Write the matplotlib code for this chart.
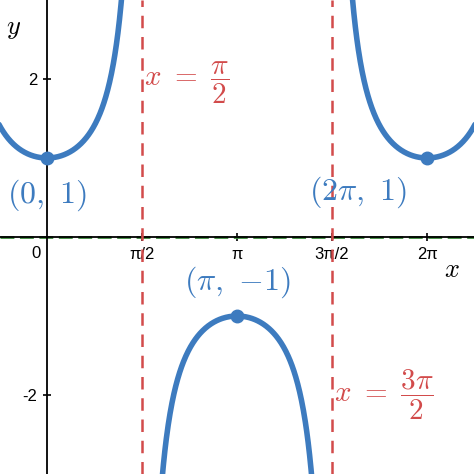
import numpy as np
import matplotlib
matplotlib.use("Agg")
import matplotlib.pyplot as plt

plt.rcParams['mathtext.fontset'] = 'cm'
plt.rcParams['axes.unicode_minus'] = False
plt.rcParams['font.family'] = ['Liberation Sans', 'DejaVu Sans']

# points marked on the curve
point_x = [0, np.pi, 2 * np.pi]
point_y = [1, -1, 1]
point_labels = [r'$(0,\ 1)$', r'$(\pi,\ {-}1)$', r'$(2\pi,\ 1)$']
label_pos = [(0.0, 0.53), (np.pi, -0.57), (5.14, 0.57)]

# vertical asymptotes
asym_x = [np.pi / 2, 3 * np.pi / 2]
asym_labels = [r'$x\ =\ \dfrac{\pi}{2}$', r'$x\ =\ \dfrac{3\pi}{2}$']

xtick_vals = [np.pi / 2, np.pi, 3 * np.pi / 2, 2 * np.pi]
xtick_text = ['π/2', 'π', '3π/2', '2π']
ytick_vals = [-2, 2]

blue = '#3d7bbf'
red = '#d24b4b'
green = '#3a8a3a'

fig = plt.figure(figsize=(4.74, 4.74), dpi=100)
ax = fig.add_axes([0, 0, 1, 1])
ax.set_xlim(-0.247 * np.pi, 2.247 * np.pi)
ax.set_ylim(-3, 3)

# sec(x), split at the asymptotes
bounds = [-0.3 * np.pi] + asym_x + [2.3 * np.pi]
for a, b in zip(bounds[:-1], bounds[1:]):
    x = np.linspace(a + 1e-3, b - 1e-3, 400)
    ax.plot(x, 1 / np.cos(x), color=blue, lw=4, solid_capstyle='round', zorder=4)

ax.plot(point_x, point_y, 'o', color=blue, ms=9, zorder=5)

for xa in asym_x:
    ax.axvline(xa, color=red, lw=1.8, dashes=(5, 3.5), zorder=3)

ax.text(np.pi / 2 + 0.03, 1.95, asym_labels[0], color=red, fontsize=21, va='center', ha='left')
ax.text(3 * np.pi / 2 + 0.03, -2.0, asym_labels[1], color=red, fontsize=21, va='center', ha='left')

for (lx, ly), t in zip(label_pos, point_labels):
    ax.text(lx, ly, t, color=blue, fontsize=23, ha='center', va='center')

# axes through origin
for s in ['top', 'right']:
    ax.spines[s].set_visible(False)
ax.spines['left'].set_position('zero')
ax.spines['bottom'].set_position('zero')
ax.spines['left'].set_linewidth(1.3)
ax.spines['bottom'].set_linewidth(1.3)
ax.axhline(0, color=green, lw=2, dashes=(5, 2), zorder=2)

ax.set_xticks(xtick_vals)
ax.set_xticklabels(xtick_text)
ax.set_yticks(ytick_vals)
ax.tick_params(direction='inout', length=6, width=1.2, labelsize=12, pad=4)
ax.text(-0.1, -0.12, '0', fontsize=12, ha='right', va='top')
ax.text(6.70, -0.42, r'$x$', fontsize=19, ha='center', va='center')
ax.text(-0.55, 2.63, r'$y$', fontsize=19, ha='center', va='center')

fig.savefig('out.png', dpi=100)
